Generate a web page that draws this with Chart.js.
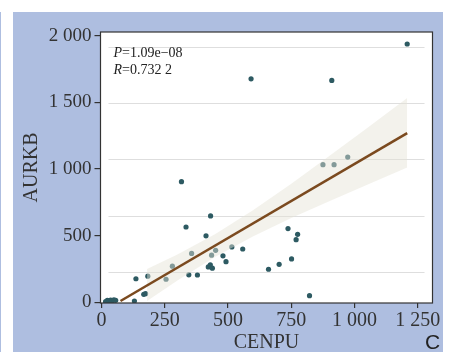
<!DOCTYPE html>
<html>
<head>
<meta charset="utf-8">
<script src="https://cdn.jsdelivr.net/npm/chart.js@4.4.0/dist/chart.umd.min.js"></script>
<style>
html, body { margin: 0; padding: 0; background: #fff; }
</style>
</head>
<body>
<canvas id="myChart" width="450" height="352"></canvas>
<script>
// values
const cenpu = [16, 23, 30, 36, 42, 49, 56, 130, 136, 167, 174, 183, 255, 280, 316, 334, 345, 356, 379, 413,
    422, 430, 431, 435, 438, 451, 480, 492, 515, 558, 591, 660, 702, 737, 751, 769, 775, 822, 875, 910, 919, 973, 1208];
const aurkb = [5, 15, 12, 17, 10, 18, 15, 10, 177, 60, 65, 196, 173, 271, 905, 565, 206, 367, 205, 499,
    266, 282, 648, 354, 256, 390, 349, 305, 416, 400, 1677, 248, 285, 553, 326, 470, 510, 50, 1033, 1665, 1033, 1090, 1938];

const fitX = [75, 1208];
const fitY = [10, 1270];

const bandX = [180, 300, 450, 600, 750, 900, 1050, 1208];
const bandUpper = [250, 359, 512, 692, 890, 1097, 1307, 1532];
const bandLower = [10, 163, 342, 496, 632, 759, 883, 1012];

const xTicks = [0, 250, 500, 750, 1000, 1250];
const yTicks = [0, 500, 1000, 1500, 2000];
const gridLines = [228, 650, 1073, 1496, 1918];

const serif = 'Liberation Serif';
const fmt = v => String(v).replace(/\B(?=(\d{3})+(?!\d))/g, ' ');
const pairs = (xs, ys) => xs.map((x, i) => ({ x: x, y: ys[i] }));

const panel = {
    id: 'panel',
    beforeDraw(chart) {
        const c = chart.ctx, a = chart.chartArea;
        c.save();
        c.fillStyle = '#fff';
        c.fillRect(0, 0, chart.width, chart.height);
        c.fillStyle = '#aebee0';
        c.fillRect(13, 12, 430, 340);
        c.fillRect(0, 12, 1, 340);
        c.fillStyle = '#fff';
        c.fillRect(a.left, a.top, a.right - a.left, a.bottom - a.top);
        c.restore();
    },
    beforeDatasetsDraw(chart) {
        const c = chart.ctx, a = chart.chartArea, y = chart.scales.y;
        c.save();
        c.strokeStyle = '#dedede';
        c.lineWidth = 1.2;
        gridLines.forEach(v => {
            const py = Math.round(y.getPixelForValue(v)) + 0.5;
            c.beginPath();
            c.moveTo(a.left + 8, py);
            c.lineTo(a.right - 8, py);
            c.stroke();
        });
        c.restore();
    },
    afterDatasetsDraw(chart) {
        const c = chart.ctx, a = chart.chartArea;
        c.save();
        c.strokeStyle = '#333';
        c.lineWidth = 1.2;
        c.strokeRect(a.left, a.top, a.right - a.left, a.bottom - a.top);
        // stats text
        c.fillStyle = '#222';
        c.textBaseline = 'alphabetic';
        const lines = [['P', '=1.09e\u221208'], ['R', '=0.732 2']];
        lines.forEach((l, i) => {
            const x = a.left + 13, y = a.top + 25 + i * 17;
            c.font = 'italic 14px ' + serif;
            c.fillText(l[0], x, y);
            const w = c.measureText(l[0]).width;
            c.font = '14px ' + serif;
            c.fillText(l[1], x + w, y);
        });
        c.font = '21px Liberation Sans';
        c.fillStyle = '#222';
        c.fillText('C', 425, 349);
        c.restore();
    }
};

const ctx = document.getElementById('myChart').getContext('2d');

const myChart = new Chart(ctx, {
    type: 'scatter',
    data: {
        datasets: [{
            type: 'line',
            data: pairs(fitX, fitY),
            borderColor: '#7b4a1f',
            borderWidth: 2.6,
            pointRadius: 0,
            fill: false,
            order: 0
        }, {
            type: 'line',
            data: pairs(bandX, bandUpper),
            borderColor: 'rgba(0,0,0,0)',
            borderWidth: 0,
            pointRadius: 0,
            backgroundColor: 'rgba(229,227,215,0.47)',
            fill: '+1',
            order: 1
        }, {
            type: 'line',
            data: pairs(bandX, bandLower),
            borderColor: 'rgba(0,0,0,0)',
            borderWidth: 0,
            pointRadius: 0,
            fill: false,
            order: 2
        }, {
            data: pairs(cenpu, aurkb),
            backgroundColor: '#2d5a62',
            borderWidth: 0,
            pointRadius: 2.6,
            order: 3
        }]
    },
    options: {
        responsive: false,
        animation: false,
        devicePixelRatio: 1,
        layout: { padding: { left: 13, top: 32, right: 17.5, bottom: 0 } },
        plugins: {
            legend: { display: false },
            tooltip: { enabled: false }
        },
        scales: {
            x: {
                type: 'linear',
                min: -4,
                max: 1308,
                afterBuildTicks: s => { s.ticks = xTicks.map(v => ({ value: v })); },
                afterFit: s => { s.height = 49; },
                ticks: {
                    callback: fmt,
                    font: { family: serif, size: 20 },
                    color: '#333',
                    padding: 1,
                    maxRotation: 0,
                    autoSkip: false
                },
                grid: { drawOnChartArea: false, tickLength: 5, color: '#333', lineWidth: 1.2 },
                border: { display: false },
                title: {
                    display: true,
                    text: 'CENPU',
                    color: '#333',
                    font: { family: serif, size: 20, lineHeight: 0.9 },
                    padding: { top: 0, bottom: 0 }
                }
            },
            y: {
                type: 'linear',
                min: -5,
                max: 2028,
                afterBuildTicks: s => { s.ticks = yTicks.map(v => ({ value: v })); },
                afterFit: s => { s.width = 87.5; },
                ticks: {
                    callback: fmt,
                    font: { family: serif, size: 19 },
                    color: '#333',
                    padding: 3
                },
                grid: { drawOnChartArea: false, tickLength: 6, color: '#333', lineWidth: 1.2 },
                border: { display: false },
                title: {
                    display: true,
                    text: 'AURKB',
                    color: '#333',
                    font: { family: serif, size: 20, lineHeight: 1.2 },
                    padding: { top: 7, bottom: 0 }
                }
            }
        }
    },
    plugins: [panel]
});
</script>
</body>
</html>
